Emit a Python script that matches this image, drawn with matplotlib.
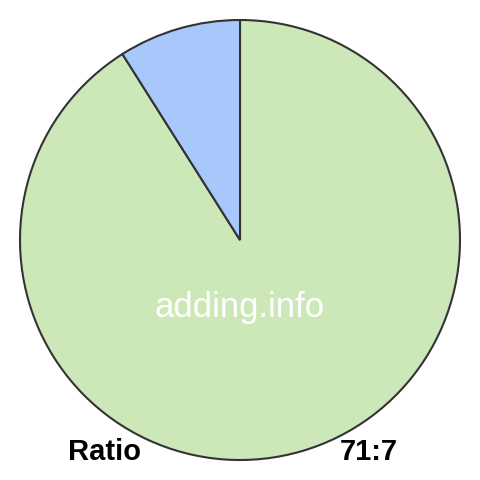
import matplotlib
matplotlib.use("Agg")
import matplotlib.pyplot as plt

labels = ["71", "7"]
values = [71, 7]
colors = ["#cde8b8", "#a8c8fc"]
ratio_label = "Ratio"
ratio_text = "71:7"

plt.rcParams['font.family'] = ['Liberation Sans', 'DejaVu Sans']

fig = plt.figure(figsize=(4.8, 4.8), dpi=100, facecolor='white')
ax = fig.add_axes([0, 0, 1, 1])

# green goes clockwise from the top, blue fills the rest
ax.pie(values, colors=colors, startangle=90, counterclock=False, radius=220,
       center=(0, 0), frame=True,
       wedgeprops=dict(edgecolor='#333333', linewidth=1.5))
ax.set_xlim(-240, 240)
ax.set_ylim(-240, 240)
ax.set_aspect('equal')
ax.axis('off')

ax.text(0, -68, "adding.info", color='white', fontsize=25,
        ha='center', va='center')
ax.text(-172, -212, ratio_label, fontsize=21, fontweight='bold',
        ha='left', va='center')
ax.text(158, -212, ratio_text, fontsize=21, fontweight='bold',
        ha='right', va='center')

fig.savefig("out.png", dpi=100)
